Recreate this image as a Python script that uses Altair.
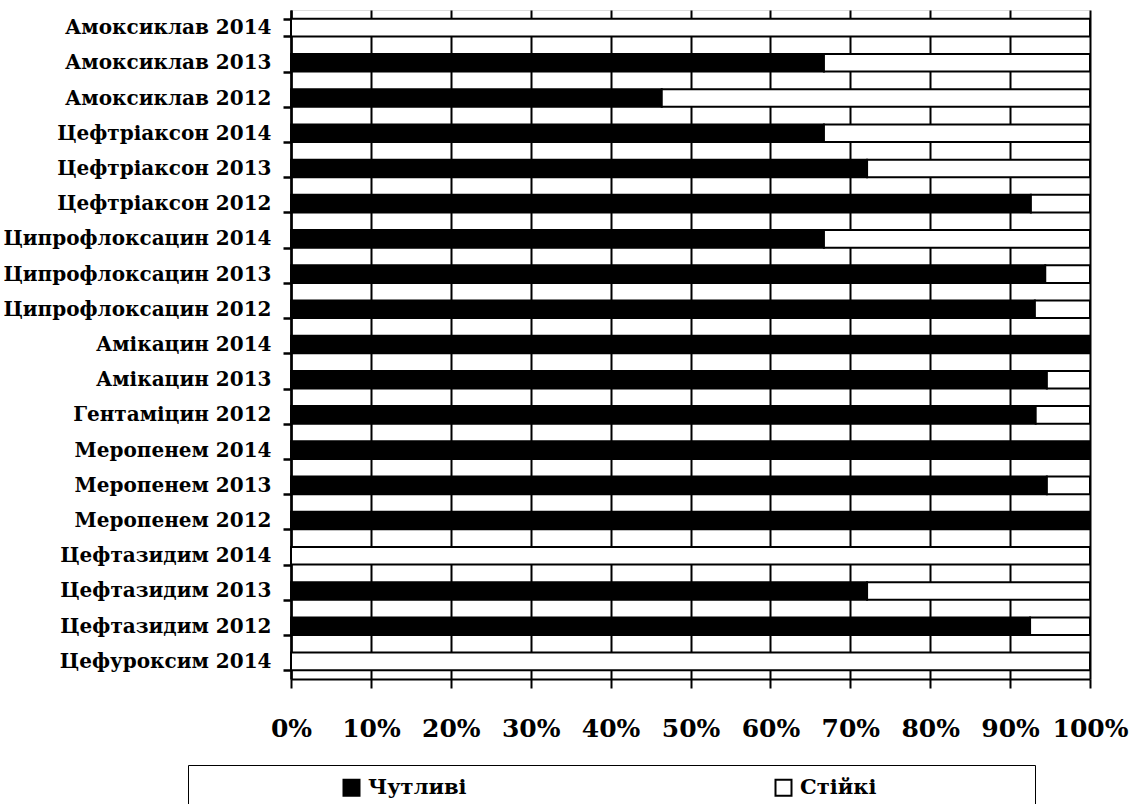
import altair as alt
import pandas as pd

categories = [
    "Амоксиклав 2014", "Амоксиклав 2013", "Амоксиклав 2012",
    "Цефтріаксон 2014", "Цефтріаксон 2013", "Цефтріаксон 2012",
    "Ципрофлоксацин 2014", "Ципрофлоксацин 2013", "Ципрофлоксацин 2012",
    "Амікацин 2014", "Амікацин 2013", "Гентаміцин 2012",
    "Меропенем 2014", "Меропенем 2013", "Меропенем 2012",
    "Цефтазидим 2014", "Цефтазидим 2013", "Цефтазидим 2012",
    "Цефуроксим 2014",
]
sensitive = [0, 66.7, 46.4, 66.7, 72.1, 92.6, 66.7, 94.4, 93.1, 100,
             94.6, 93.2, 100, 94.6, 100, 0, 72.1, 92.5, 0]
resistant = [100, 33.3, 53.6, 33.3, 27.9, 7.4, 33.3, 5.6, 6.9, 0,
             5.4, 6.8, 0, 5.4, 0, 100, 27.9, 7.5, 100]
series = ["Чутливі", "Стійкі"]
x_ticks = [0, 0.1, 0.2, 0.3, 0.4, 0.5, 0.6, 0.7, 0.8, 0.9, 1.0]

rows = []
for c, s, r in zip(categories, sensitive, resistant):
    rows.append({"category": c, "series": series[0], "value": s, "ord": 0})
    rows.append({"category": c, "series": series[1], "value": r, "ord": 1})
df = pd.DataFrame(rows)

FONT = "DejaVu Serif"
# trailing non-breaking spaces (kept from trimming by a zero-width char) widen the legend box
PAD = "\u00a0" * 20 + "\u200b"
label_expr = ("datum.value == '" + series[1] + "' ? datum.label + '" + PAD
              + "' : datum.label")

chart = alt.Chart(df).mark_bar(stroke="black", strokeWidth=2).encode(
    y=alt.Y("category:N", sort=categories,
            scale=alt.Scale(paddingInner=0.5, paddingOuter=0.25),
            axis=alt.Axis(title=None, tickBand="extent", tickSize=8, tickWidth=2.5,
                          tickColor="black", domainColor="black", domainWidth=2.5,
                          labelFont=FONT, labelFontWeight="bold", labelFontSize=20,
                          labelColor="black", labelPadding=12, labelLimit=400,
                          grid=False)),
    x=alt.X("value:Q", stack="normalize",
            scale=alt.Scale(domain=[0, 1], nice=False),
            axis=alt.Axis(title=None, values=x_ticks, format=".0%", grid=True,
                          gridColor="black", gridWidth=2, gridOpacity=1,
                          tickSize=9, tickWidth=2, tickColor="black",
                          domainColor="black", domainWidth=2,
                          labelFont=FONT, labelFontWeight="bold", labelFontSize=25,
                          labelColor="black", labelPadding=28, labelFlush=False)),
    fill=alt.Fill("series:N", scale=alt.Scale(domain=series, range=["black", "white"]),
                  legend=alt.Legend(
                      title=".", titleOrient="left", titleOpacity=0, titleFontSize=20,
                      titlePadding=135,
                      orient="none", legendX=-103, legendY=755,
                      direction="horizontal", columns=2, columnPadding=304,
                      symbolType="square", symbolSize=256, symbolStrokeColor="black",
                      symbolStrokeWidth=2, labelFont=FONT, labelFontWeight="bold",
                      labelFontSize=21, labelColor="black", labelOffset=6,
                      labelLimit=500, labelExpr=label_expr,
                      strokeColor="black", padding=12)),
    order=alt.Order("ord:Q"),
).properties(
    width=799, height=669,
    autosize=alt.AutoSizeParams(type="none"),
    padding={"left": 291, "top": 10, "right": 40, "bottom": 125},
).configure_view(stroke="black", strokeWidth=2).configure(background="white")

chart.save("out.html", embed_options={"renderer": "svg", "actions": False})
